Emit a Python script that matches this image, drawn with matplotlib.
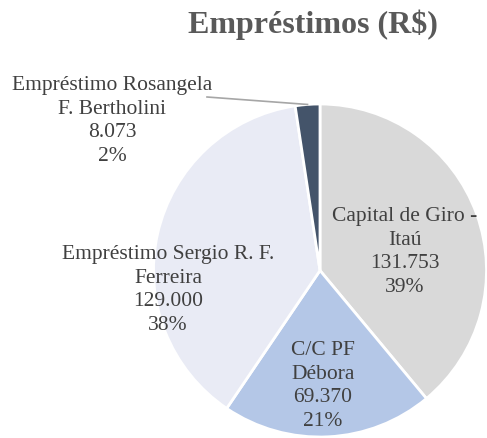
import textwrap
import numpy as np
import matplotlib
matplotlib.use("Agg")
import matplotlib.pyplot as plt

# ---- data ----
categories = ["Capital de Giro - Itaú", "C/C PF Débora",
              "Empréstimo Sergio R. F. Ferreira", "Empréstimo Rosangela F. Bertholini"]
values = [131753, 69370, 129000, 8073]
title = "Empréstimos (R$)"

# ---- style / layout ----
colors = ["#D9D9D9", "#B4C7E7", "#E9EBF5", "#44546A"]
wrap_widths = [17, 7, 23, 20]
# label centres in pixel coordinates (x, y from top)
label_pos = [(405, 252), (323, 386), (168, 290), (112, 121)]

W, H = 487, 438
plt.rcParams['font.family'] = ['Liberation Serif', 'DejaVu Serif']
fig = plt.figure(figsize=(W / 100, H / 100), dpi=100)
ax = fig.add_axes([0, 0, 1, 1])

cx, cy, r = 320, H - 270.5, 166.5
wedges, _ = ax.pie(values, colors=colors, startangle=90, counterclock=False,
                   center=(cx, cy), radius=r,
                   wedgeprops=dict(edgecolor="white", linewidth=2))
ax.set_xlim(0, W)
ax.set_ylim(0, H)
ax.set_aspect('equal')
ax.axis('off')

total = sum(values)
for i, (cat, v) in enumerate(zip(categories, values)):
    name = "\n".join(textwrap.wrap(cat, wrap_widths[i]))
    val = f"{v:,}".replace(",", ".")
    pct = round(100 * v / total)
    txt = f"{name}\n{val}\n{pct}%"
    x, y = label_pos[i]
    ax.text(x, H - y, txt, ha="center", va="center", fontsize=15.5,
            color="#404040", linespacing=1.33)

# leader line for the small slice
w = wedges[3]
mid = np.deg2rad((w.theta1 + w.theta2) / 2)
ex, ey = cx + r * np.cos(mid), cy + r * np.sin(mid)
ax.plot([207, ex], [H - 97, ey], color="#A6A6A6", linewidth=1.2)

fig.text(313 / W, 1 - 25 / H, title, ha="center", va="center", fontsize=23,
         fontweight="bold", color="#595959")

fig.savefig("out.png", dpi=100)
